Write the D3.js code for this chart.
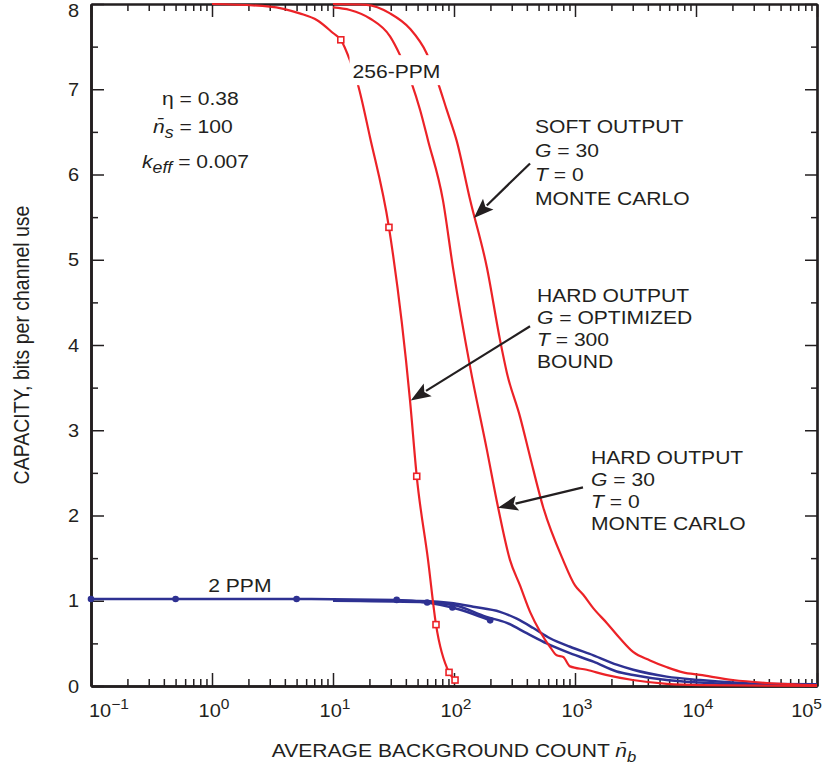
<!DOCTYPE html>
<html>
<head>
<meta charset="utf-8">
<script src="https://cdn.jsdelivr.net/npm/d3@7"></script>
<style>
  html, body { margin: 0; padding: 0; background: #fff; }
  svg { display: block; }
  text { font-family: "Liberation Sans", Arial, Helvetica, sans-serif; fill: #231f20; }
</style>
</head>
<body>
<svg id="chart" width="822" height="769"></svg>
<script>
// ---------------- DATA ----------------
const xDecades = [0.1, 1, 10, 100, 1000, 10000, 100000];
const xDecadeExponents = ["\u22121", "0", "1", "2", "3", "4", "5"];
const yTickValues = [0, 1, 2, 3, 4, 5, 6, 7, 8];

// 256-PPM, hard output, G optimized, T = 300, bound (red, square markers)
const boundX = [1, 3, 5.3, 7.4, 10, 11.6, 13.8, 16.1, 20.2, 29, 43.3, 49.2, 61, 71, 91, 102];
const boundY = [8.0, 7.97, 7.89, 7.81, 7.66, 7.58, 7.34, 7.05, 6.44, 5.38, 3.35, 2.46, 1.48, 0.72, 0.16, 0.07];
const boundMarkX = [11.6, 29, 49.2, 71, 91, 102];
const boundMarkY = [7.58, 5.38, 2.46, 0.72, 0.16, 0.07];

// 256-PPM, hard output, G = 30, T = 0, Monte Carlo (red)
const hardX = [10, 13.8, 20.2, 29.6, 35.8, 44.7, 52.4, 61, 81, 98, 136, 187, 231, 290, 351, 425, 514, 621, 706, 800, 910, 1250, 1800, 3000, 5750, 10800, 100000];
const hardY = [7.96, 7.93, 7.83, 7.62, 7.40, 7.07, 6.76, 6.40, 5.70, 4.91, 3.74, 2.77, 2.10, 1.48, 1.18, 0.87, 0.64, 0.46, 0.36, 0.34, 0.23, 0.19, 0.13, 0.07, 0.025, 0.01, 0.0];

// 256-PPM, soft output, G = 30, T = 0, Monte Carlo (red)
const softX = [10, 19, 29.6, 43.3, 59.5, 74, 87, 105, 136, 187, 240, 274, 351, 425, 545, 796, 1000, 1170, 1420, 1830, 2350, 3020, 4170, 5760, 7810, 10800, 20200, 38600, 100000];
const softY = [8.0, 7.99, 7.89, 7.71, 7.42, 7.07, 6.76, 6.40, 5.70, 4.91, 4.06, 3.67, 3.16, 2.69, 2.10, 1.48, 1.18, 1.07, 0.91, 0.74, 0.56, 0.40, 0.30, 0.22, 0.16, 0.13, 0.07, 0.035, 0.01];

// 2 PPM (blue): bound with dots, and two Monte Carlo curves
const ppmDotX = [0.1, 0.5, 5, 33.6, 60, 97, 199];
const ppmDotY = [1.02, 1.02, 1.02, 1.01, 0.98, 0.92, 0.77];
const ppmSoftX = [10, 33.6, 52, 99, 144, 240, 330, 452, 621, 910, 1420, 2210, 3030, 5720, 10800, 20200, 38600, 100000];
const ppmSoftY = [1.0, 1.0, 0.997, 0.97, 0.93, 0.87, 0.79, 0.68, 0.56, 0.46, 0.36, 0.25, 0.19, 0.11, 0.07, 0.04, 0.023, 0.02];
const ppmHardX = [10, 52, 99, 186, 273, 399, 584, 853, 1420, 2210, 3030, 5720, 10800, 20200, 100000];
const ppmHardY = [1.0, 0.985, 0.95, 0.81, 0.74, 0.62, 0.50, 0.40, 0.285, 0.17, 0.13, 0.07, 0.04, 0.02, 0.01];

// ---------------- LAYOUT ----------------
const svg = d3.select("#chart");
const X0 = 91, X1 = 817, Y0 = 686, Y1 = 4;
const SX = 1.11;                  // horizontal stretch of the lettering
const RED = "#ec2227", BLUE = "#2e3192", INK = "#231f20";

const x = d3.scaleLog().domain([0.1, 100000]).range([X0, X1]);
const y = d3.scaleLinear().domain([0, 8]).range([Y0, Y1]);

function txt(px, py, anchor, size, rot) {
  return svg.append("text")
    .attr("transform", `translate(${px},${py}) scale(${SX},1)` + (rot ? ` rotate(${rot})` : ""))
    .attr("text-anchor", anchor || "start")
    .style("font-size", (size || 19) + "px");
}

// ---------------- AXES ----------------
const minors = [];
for (let e = -1; e < 5; e++) for (let m = 2; m <= 9; m++) minors.push(m * Math.pow(10, e));
const yMinor = d3.range(0.5, 8, 1);

function styleAxis(g, w) {
  g.selectAll(".tick line").attr("stroke", INK).attr("stroke-width", 1.5);
  g.select(".domain").attr("stroke", INK).attr("stroke-width", w);
  g.selectAll("text").remove();
}
svg.append("g").attr("transform", `translate(0,${Y0})`)
  .call(d3.axisBottom(x).tickValues(minors).tickSizeInner(-7).tickSizeOuter(0).tickFormat(""))
  .call(g => styleAxis(g, 2.6));
svg.append("g").attr("transform", `translate(0,${Y0})`)
  .call(d3.axisBottom(x).tickValues(xDecades).tickSizeInner(-13).tickSizeOuter(0).tickFormat(""))
  .call(g => styleAxis(g, 2.6));
svg.append("g").attr("transform", `translate(0,${Y1})`)
  .call(d3.axisTop(x).tickValues(minors).tickSizeInner(-7).tickSizeOuter(0).tickFormat(""))
  .call(g => styleAxis(g, 2.2));
svg.append("g").attr("transform", `translate(0,${Y1})`)
  .call(d3.axisTop(x).tickValues(xDecades).tickSizeInner(-13).tickSizeOuter(0).tickFormat(""))
  .call(g => styleAxis(g, 2.2));
svg.append("g").attr("transform", `translate(${X0},0)`)
  .call(d3.axisLeft(y).tickValues(yTickValues).tickSizeInner(-13).tickSizeOuter(0).tickFormat(""))
  .call(g => styleAxis(g, 2.6));
svg.append("g").attr("transform", `translate(${X0},0)`)
  .call(d3.axisLeft(y).tickValues(yMinor).tickSizeInner(-7).tickSizeOuter(0).tickFormat(""))
  .call(g => styleAxis(g, 2.6));
svg.append("g").attr("transform", `translate(${X1},0)`)
  .call(d3.axisRight(y).tickValues(yTickValues).tickSizeInner(-12).tickSizeOuter(0).tickFormat(""))
  .call(g => styleAxis(g, 2.2));
svg.append("g").attr("transform", `translate(${X1},0)`)
  .call(d3.axisRight(y).tickValues(yMinor).tickSizeInner(-6).tickSizeOuter(0).tickFormat(""))
  .call(g => styleAxis(g, 2.2));

// y tick labels
yTickValues.forEach(v => {
  const py = y(v) + 6.5 + (v === 8 ? 6.5 : 0);
  txt(X0 - 12, py, "end", 18).text(String(v));
});
// x tick labels (powers of ten)
xDecades.forEach((v, i) => {
  const last = i === xDecades.length - 1, first = i === 0;
  const anchor = first ? "start" : (last ? "end" : "middle");
  const px = first ? X0 - 2 : (last ? 822 : x(v) + 2);
  const t = txt(px, 717, anchor, 18);
  t.append("tspan").text("10");
  t.append("tspan").attr("dy", -8).style("font-size", "14px").text(xDecadeExponents[i]);
});

// axis titles
{
  const t = txt(454, 757, "middle", 19);
  t.append("tspan").text("AVERAGE BACKGROUND COUNT ");
  t.append("tspan").style("font-style", "italic").text("n\u0304");
  t.append("tspan").attr("dy", 5).style("font-style", "italic").style("font-size", "15px").text("b");
}
txt(29, 345, "middle", 19.5, -90).text("CAPACITY, bits per channel use");

// ---------------- CURVES ----------------
const line = d3.line().x(d => x(d[0])).y(d => y(d[1])).curve(d3.curveMonotoneX);
function curve(xs, ys, color, w) {
  svg.append("path").datum(xs.map((v, i) => [v, ys[i]]))
    .attr("d", line).attr("fill", "none").attr("stroke", color)
    .attr("stroke-width", w).attr("stroke-linejoin", "round");
}
curve(ppmSoftX, ppmSoftY, BLUE, 2.5);
curve(ppmHardX, ppmHardY, BLUE, 2.5);
curve(ppmDotX, ppmDotY, BLUE, 2.5);
svg.append("g").selectAll("circle").data(ppmDotX.map((v, i) => [v, ppmDotY[i]])).join("circle")
  .attr("cx", d => x(d[0])).attr("cy", d => y(d[1])).attr("r", 3.3).attr("fill", BLUE);

curve(softX, softY, RED, 2.2);
curve(hardX, hardY, RED, 2.2);
curve(boundX, boundY, RED, 2.2);
svg.append("g").selectAll("rect").data(boundMarkX.map((v, i) => [v, boundMarkY[i]])).join("rect")
  .attr("x", d => x(d[0]) - 3).attr("y", d => y(d[1]) - 3).attr("width", 6).attr("height", 6)
  .attr("fill", "#fff").attr("stroke", RED).attr("stroke-width", 1.6);

// ---------------- ANNOTATIONS ----------------
// 256-PPM label on a white patch
{
  const t = txt(x(14.5), y(7.13), "start", 19).text("256-PPM");
  const bb = t.node().getBBox();
  svg.insert("rect", () => t.node())
    .attr("x", x(14.5) - 3).attr("y", y(7.13) - 23)
    .attr("width", bb.width * SX + 6).attr("height", 30).attr("fill", "#fff");
}
txt(x(0.93), y(1.10), "start", 19).text("2 PPM");

// parameter block
{
  const t1 = txt(x(0.386), y(6.815), "start", 19);
  t1.text("\u03b7 = 0.38");
  const t2 = txt(x(0.325), y(6.49), "start", 19);
  t2.append("tspan").style("font-style", "italic").text("n\u0304");
  t2.append("tspan").attr("dy", 5).style("font-style", "italic").style("font-size", "16px").text("s");
  t2.append("tspan").attr("dy", -5).text(" = 100");
  const t3 = txt(x(0.264), y(6.08), "start", 19);
  t3.append("tspan").style("font-style", "italic").text("k");
  t3.append("tspan").attr("dy", 5).style("font-style", "italic").style("font-size", "16px").text("eff");
  t3.append("tspan").attr("dy", -5).text(" = 0.007");
}

function block(xv, yv, lines, gap) {
  lines.forEach((ln, i) => {
    const t = txt(x(xv), y(yv) + i * gap, "start", 19);
    ln.forEach(part => {
      const s = t.append("tspan").text(part[0]);
      if (part[1]) s.style("font-style", "italic");
    });
  });
}
block(467, 6.49, [[["SOFT OUTPUT"]], [["G", 1], [" = 30"]], [["T", 1], [" = 0"]], [["MONTE CARLO"]]], 24);
block(485, 4.50, [[["HARD OUTPUT"]], [["G", 1], [" = OPTIMIZED"]], [["T", 1], [" = 300"]], [["BOUND"]]], 22);
block(1356, 2.60, [[["HARD OUTPUT"]], [["G", 1], [" = 30"]], [["T", 1], [" = 0"]], [["MONTE CARLO"]]], 22);

// arrows
const arrows = [
  { from: [425, 6.13], to: [146, 5.49] },
  { from: [425, 4.22], to: [43.9, 3.35] },
  { from: [1164, 2.33], to: [231, 2.09] }
];
arrows.forEach(a => {
  const x1 = x(a.from[0]), y1 = y(a.from[1]), x2 = x(a.to[0]), y2 = y(a.to[1]);
  const dx = x2 - x1, dy = y2 - y1, L = Math.hypot(dx, dy), ux = dx / L, uy = dy / L;
  const hl = 20, hw = 7.5;
  const bx = x2 - ux * hl, by = y2 - uy * hl;
  svg.append("line").attr("x1", x1).attr("y1", y1).attr("x2", bx + ux * 2).attr("y2", by + uy * 2)
    .attr("stroke", INK).attr("stroke-width", 2.2);
  svg.append("path")
    .attr("d", `M${x2},${y2}L${bx - uy * hw},${by + ux * hw}L${bx + ux * 4},${by + uy * 4}L${bx + uy * hw},${by - ux * hw}Z`)
    .attr("fill", INK);
});
</script>
</body>
</html>
